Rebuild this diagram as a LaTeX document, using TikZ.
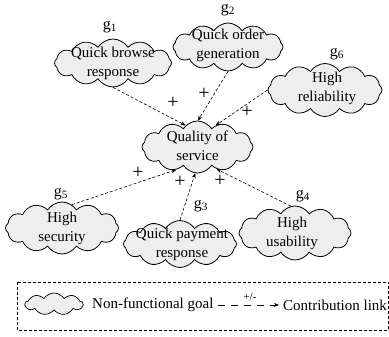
\documentclass[tikz,border=0pt]{standalone}
\usepackage{fontspec}
\setmainfont{Liberation Serif}
\usetikzlibrary{shapes.symbols,arrows.meta}
\tikzset{
  goal/.style={shape=cloud, cloud puffs=12, cloud puff arc=115, cloud ignores aspect,
    draw=black, fill=gray!13, line width=0.8pt, inner sep=0pt},
  lbl/.style={align=center, font=\fontsize{15}{19}\selectfont, inner sep=0pt},
  glab/.style={font=\fontsize{16}{18}\selectfont, inner sep=0pt},
  plus/.style={font=\fontsize{20}{22}\selectfont, inner sep=0pt},
  link/.style={dashed, dash pattern=on 3pt off 2pt, line width=0.6pt, -{Stealth[length=5pt,width=4pt]}},
}
\begin{document}
\begin{tikzpicture}[x=1pt,y=-1pt]
\useasboundingbox (0,0) rectangle (389,337);
% clouds
\node[goal, minimum width=117pt, minimum height=48pt] (g1) at (113,63) {};
\node[goal, minimum width=110pt, minimum height=48pt] (g2) at (228,47) {};
\node[goal, minimum width=114pt, minimum height=53pt] (g6) at (325,90) {};
\node[goal, minimum width=111pt, minimum height=52pt] (qos) at (197.5,147) {};
\node[goal, minimum width=113pt, minimum height=52pt] (g5) at (62,228) {};
\node[goal, minimum width=113pt, minimum height=47pt] (g3) at (180,244) {};
\node[goal, minimum width=112pt, minimum height=54pt] (g4) at (295,233) {};
% texts
\node[lbl] (t1) at (113,63) {Quick browse\\response};
\node[lbl] (t2) at (228,45) {Quick order\\generation};
\node[lbl] (t6) at (327,88) {High\\reliability};
\node[lbl] (tq) at (197.5,146) {Quality of\\service};
\node[lbl] (t5) at (62,228) {High\\security};
\node[lbl] (t3) at (182,244) {Quick payment\\response};
\node[lbl] (t4) at (292,233) {High\\usability};
% g labels
\node[glab] (l1) at (110,27) {g\textsubscript{1}};
\node[glab] (l2) at (228,10) {g\textsubscript{2}};
\node[glab] (l6) at (337,54) {g\textsubscript{6}};
\node[glab] (l5) at (61,194) {g\textsubscript{5}};
\node[glab] (l3) at (201,206) {g\textsubscript{3}};
\node[glab] (l4) at (303,196) {g\textsubscript{4}};
% links
\draw[link] (g1.south) -- (qos.119);
\draw[link] (g2.south) -- (qos.89);
\draw[link] (g6.west) -- (qos.50);
\draw[link] (g5.67) -- (qos.227);
\draw[link] (g3.north) -- (qos.265);
\draw[link] (g4.99) -- (qos.311);
% plus signs
\node[plus] (p1) at (173,103) {+};
\node[plus] (p2) at (204,94) {+};
\node[plus] (p6) at (247,112) {+};
\node[plus] (p5) at (138,173) {+};
\node[plus] (p3) at (180,182) {+};
\node[plus] (p4) at (220,181) {+};
% legend
\draw[dashed, dash pattern=on 3pt off 2pt, line width=0.6pt] (17,282) rectangle (388.4,330);
\node[goal, cloud puffs=9, minimum width=58pt, minimum height=22pt, line width=0.7pt] (lc) at (54,304) {};
\node[lbl, anchor=west] (lt) at (92,305) {Non-functional goal};
\coordinate (la) at (218,305);
\coordinate (lb) at (279,305);
\draw[link, line width=0.9pt, dash pattern=on 7pt off 6pt] (la) -- (lb);
\node[font=\fontsize{11}{12}\selectfont, inner sep=0pt] (pm) at (250,297) {+/-};
\node[lbl, anchor=west] (lt2) at (283,305) {Contribution link};
\end{tikzpicture}
\end{document}
